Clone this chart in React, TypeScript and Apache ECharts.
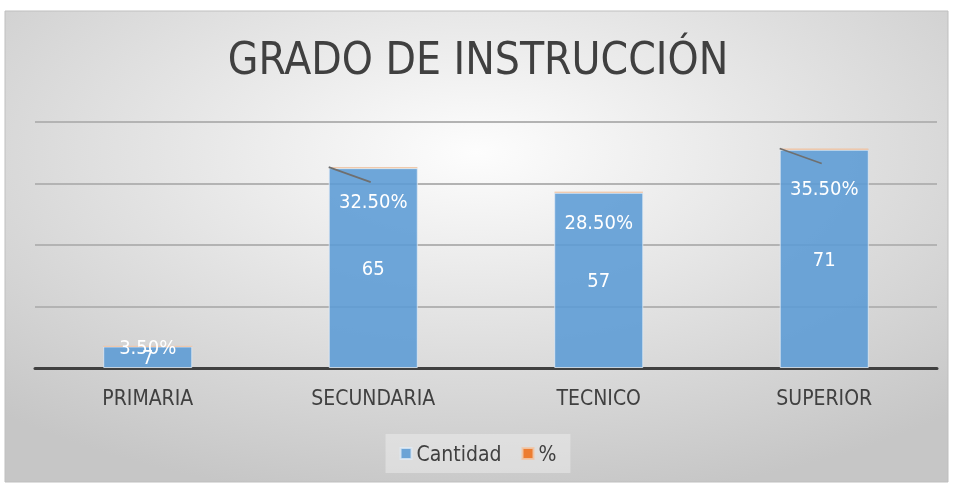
import React, { useEffect, useRef } from "react";
import * as echarts from "echarts";

const categories = ["PRIMARIA", "SECUNDARIA", "TECNICO", "SUPERIOR"];
const cantidad = [7, 65, 57, 71];
const porcentaje = [0.035, 0.325, 0.285, 0.355];
const seriesNames = ["Cantidad", "%"];
const titleText = "GRADO DE INSTRUCCIÓN";

// label placement (styling)
const pctLabelDy = [16, 49, 45, 54];
const leaderIdx = [1, 3];
const leaderDx = 42;
const leaderDy = 15;
const barWidthFrac = 0.395;

const FONT = "'Liberation Sans Narrow', 'DejaVu Sans Condensed', 'Roboto', sans-serif";

export default function App() {
  const ref = useRef<HTMLDivElement>(null);
  useEffect(() => {
    if (!ref.current) return;
    const chart = echarts.init(ref.current, undefined, { renderer: "svg" });
    const leaderData = leaderIdx.map((i) => [i, cantidad[i] + porcentaje[i]]);
    chart.setOption({
      animation: false,
      textStyle: { fontFamily: FONT },
      graphic: [
        {
          type: "rect",
          z: -10,
          silent: true,
          shape: { x: 5, y: 11, width: 943, height: 471 },
          style: {
            fill: {
              type: "radial",
              x: 0.5,
              y: 0.3,
              r: 0.75,
              colorStops: [
                { offset: 0, color: "#fdfdfd" },
                { offset: 1, color: "#c6c6c6" },
              ],
            },
            stroke: "#bfbfbf",
            lineWidth: 1,
          },
        },
      ],
      title: {
        text: titleText,
        left: "center",
        top: 31,
        textStyle: {
          fontFamily: FONT,
          fontSize: 44,
          fontWeight: "normal",
          color: "#404040",
        },
      },
      legend: {
        data: seriesNames,
        bottom: 12,
        left: "center",
        itemWidth: 11,
        itemHeight: 11,
        itemGap: 20,
        padding: [9, 14],
        backgroundColor: "rgba(235,235,235,0.55)",
        textStyle: { fontFamily: FONT, fontSize: 21, color: "#404040" },
        icon: "rect",
      },
      grid: { left: 35, right: 19, top: 122, bottom: 117 },
      xAxis: {
        type: "category",
        data: categories,
        axisTick: { show: false },
        axisLine: { lineStyle: { color: "#404040", width: 3 } },
        axisLabel: {
          fontFamily: FONT,
          fontSize: 21,
          color: "#404040",
          margin: 19,
        },
      },
      yAxis: {
        type: "value",
        min: 0,
        max: 80,
        interval: 20,
        axisLabel: { show: false },
        axisLine: { show: false },
        axisTick: { show: false },
        splitLine: { lineStyle: { color: "#b3b3b3", width: 2 } },
      },
      series: [
        {
          name: seriesNames[0],
          type: "bar",
          stack: "total",
          barWidth: barWidthFrac * 100 + "%",
          data: cantidad,
          itemStyle: {
            color: "rgba(91,155,213,0.88)",
            borderColor: "rgba(225,235,245,0.8)",
            borderWidth: 1,
          },
          label: {
            show: true,
            position: "inside",
            color: "#ffffff",
            fontFamily: FONT,
            fontSize: 20,
          },
        },
        {
          name: seriesNames[1],
          type: "bar",
          stack: "total",
          barWidth: barWidthFrac * 100 + "%",
          data: porcentaje,
          itemStyle: { color: "#ed7d31", borderColor: "rgba(240,200,170,0.9)", borderWidth: 1 },
          label: {
            show: true,
            position: "top",
            distance: 5,
            color: "#ffffff",
            fontFamily: FONT,
            fontSize: 20,
            formatter: (p: any) => (p.value * 100).toFixed(2) + "%",
          },
          labelLayout: (params: any) => ({
            dy: pctLabelDy[params.dataIndex],
          }),
        },
        {
          type: "custom",
          silent: true,
          z: 5,
          data: leaderData,
          encode: { x: 0, y: 1 },
          renderItem: (params: any, api: any) => {
            const p = api.coord([api.value(0), api.value(1)]);
            const bw = api.size([1, 0])[0] * barWidthFrac;
            const x0 = p[0] - bw / 2;
            return {
              type: "line",
              shape: { x1: x0, y1: p[1], x2: x0 + leaderDx, y2: p[1] + leaderDy },
              style: { stroke: "#6f6f6f", lineWidth: 1.6 },
            };
          },
        },
      ],
    });
    return () => chart.dispose();
  }, []);
  return (
    <div
      ref={ref}
      style={{ position: "fixed", left: 0, top: 0, width: 956, height: 485 }}
    />
  );
}
